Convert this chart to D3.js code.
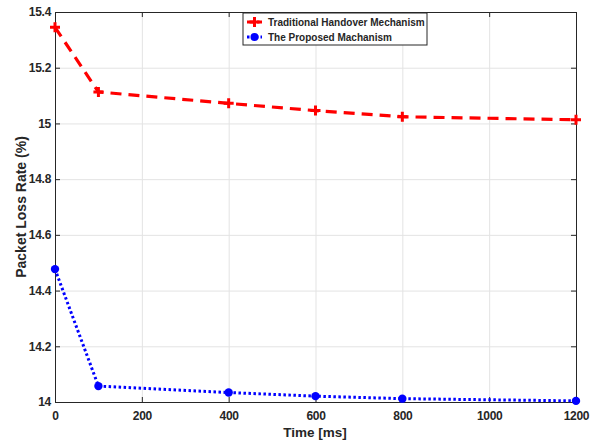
<!DOCTYPE html>
<html>
<head>
<meta charset="utf-8">
<script src="https://cdn.jsdelivr.net/npm/d3@7.9.0/dist/d3.min.js"></script>
<style>
  body { margin: 0; background: #fff; }
  svg { display: block; font-family: "Liberation Sans", Arial, sans-serif; }
  .grid line { stroke: #e3e3e3; stroke-width: 1; }
  .grid .domain { display: none; }
  .axis text { font-size: 12px; font-weight: bold; fill: #262626; letter-spacing: -0.3px; }
  .axis line, .axis path { stroke: #262626; }
</style>
</head>
<body>
<svg id="chart" width="597" height="444"></svg>
<script>
// data
const times = [0, 100, 400, 600, 800, 1200];
const traditional = [15.345, 15.113, 15.072, 15.046, 15.024, 15.013];
const proposed = [14.477, 14.057, 14.034, 14.021, 14.012, 14.004];
const xTicks = [0, 200, 400, 600, 800, 1000, 1200];
const yTicks = [14, 14.2, 14.4, 14.6, 14.8, 15, 15.2, 15.4];
const seriesNames = ['Traditional Handover Mechanism', 'The Proposed Machanism'];

const svg = d3.select('#chart');
const area = { left: 55, right: 576, top: 12, bottom: 402 };

const x = d3.scaleLinear().domain([0, 1200]).range([area.left, area.right]);
const y = d3.scaleLinear().domain([14, 15.4]).range([area.bottom, area.top]);

// gridlines
svg.append('g').attr('class', 'grid')
  .attr('transform', `translate(0,${area.bottom})`)
  .call(d3.axisBottom(x).tickValues(xTicks).tickFormat('').tickSize(-(area.bottom - area.top)));
svg.append('g').attr('class', 'grid')
  .attr('transform', `translate(${area.left},0)`)
  .call(d3.axisLeft(y).tickValues(yTicks).tickFormat('').tickSize(-(area.right - area.left)));

// axes (ticks inside, like matlab)
svg.append('g').attr('class', 'axis')
  .attr('transform', `translate(0,${area.bottom})`)
  .call(d3.axisBottom(x).tickValues(xTicks).tickFormat(d3.format('d'))
    .tickSizeInner(-5).tickSizeOuter(0).tickPadding(9))
  .call(g => g.selectAll('text').attr('dy', '0.71em'));
svg.append('g').attr('class', 'axis')
  .attr('transform', `translate(${area.left},0)`)
  .call(d3.axisLeft(y).tickValues(yTicks).tickFormat(d3.format('~g'))
    .tickSizeInner(-5).tickSizeOuter(0).tickPadding(4));
svg.append('g').attr('class', 'axis')
  .attr('transform', `translate(0,${area.top})`)
  .call(d3.axisTop(x).tickValues(xTicks).tickFormat('').tickSizeInner(-5).tickSizeOuter(0));
svg.append('g').attr('class', 'axis')
  .attr('transform', `translate(${area.right},0)`)
  .call(d3.axisRight(y).tickValues(yTicks).tickFormat('').tickSizeInner(-5).tickSizeOuter(0));

// axis labels
svg.append('text')
  .attr('x', 315).attr('y', 437)
  .attr('text-anchor', 'middle')
  .style('font-size', '13.5px').style('font-weight', 'bold').attr('fill', '#262626')
  .text('Time [ms]');
svg.append('text')
  .attr('transform', `translate(26,${(area.top + area.bottom) / 2}) rotate(-90)`)
  .attr('text-anchor', 'middle')
  .style('font-size', '14px').style('font-weight', 'bold').attr('fill', '#262626')
  .text('Packet Loss Rate (%)');

// lines
const line = d3.line().x((d, i) => x(times[i])).y(d => y(d));

svg.append('path').datum(traditional)
  .attr('d', line).attr('fill', 'none')
  .attr('stroke', '#ff0000').attr('stroke-width', 3.2)
  .attr('stroke-dasharray', '11,7');

svg.append('path').datum(proposed)
  .attr('d', line).attr('fill', 'none')
  .attr('stroke', '#0000ff').attr('stroke-width', 3)
  .attr('stroke-dasharray', '2.5,2.5');

// markers
svg.append('g').selectAll('path')
  .data(traditional).join('path')
  .attr('transform', (d, i) => `translate(${x(times[i])},${y(d)})`)
  .attr('d', 'M-5,0H5M0,-5V5')
  .attr('stroke', '#ff0000').attr('stroke-width', 3).attr('fill', 'none');

svg.append('g').selectAll('circle')
  .data(proposed).join('circle')
  .attr('cx', (d, i) => x(times[i])).attr('cy', d => y(d))
  .attr('r', 4.2).attr('fill', '#0000ff');

// legend
const lg = svg.append('g').attr('transform', 'translate(243,13)');
lg.append('rect').attr('width', 184).attr('height', 32)
  .attr('fill', '#fff').attr('stroke', '#262626').attr('stroke-width', 1);

const legendRows = [
  { name: seriesNames[0], color: '#ff0000', dash: '7,3', marker: 'plus' },
  { name: seriesNames[1], color: '#0000ff', dash: '2.5,2', marker: 'circle' },
];
legendRows.forEach((r, i) => {
  const yy = 9 + i * 15;
  lg.append('line').attr('x1', 4).attr('x2', 19).attr('y1', yy).attr('y2', yy)
    .attr('stroke', r.color).attr('stroke-width', 3).attr('stroke-dasharray', r.dash);
  if (r.marker === 'plus') {
    lg.append('path').attr('transform', `translate(11.5,${yy})`)
      .attr('d', 'M-5,0H5M0,-5V5').attr('stroke', r.color).attr('stroke-width', 3);
  } else {
    lg.append('circle').attr('cx', 11.5).attr('cy', yy).attr('r', 4).attr('fill', r.color);
  }
  lg.append('text').attr('x', 25).attr('y', yy).attr('dy', '0.35em')
    .style('font-size', '10px').style('font-weight', 'bold').attr('fill', '#262626')
    .text(r.name);
});
</script>
</body>
</html>
